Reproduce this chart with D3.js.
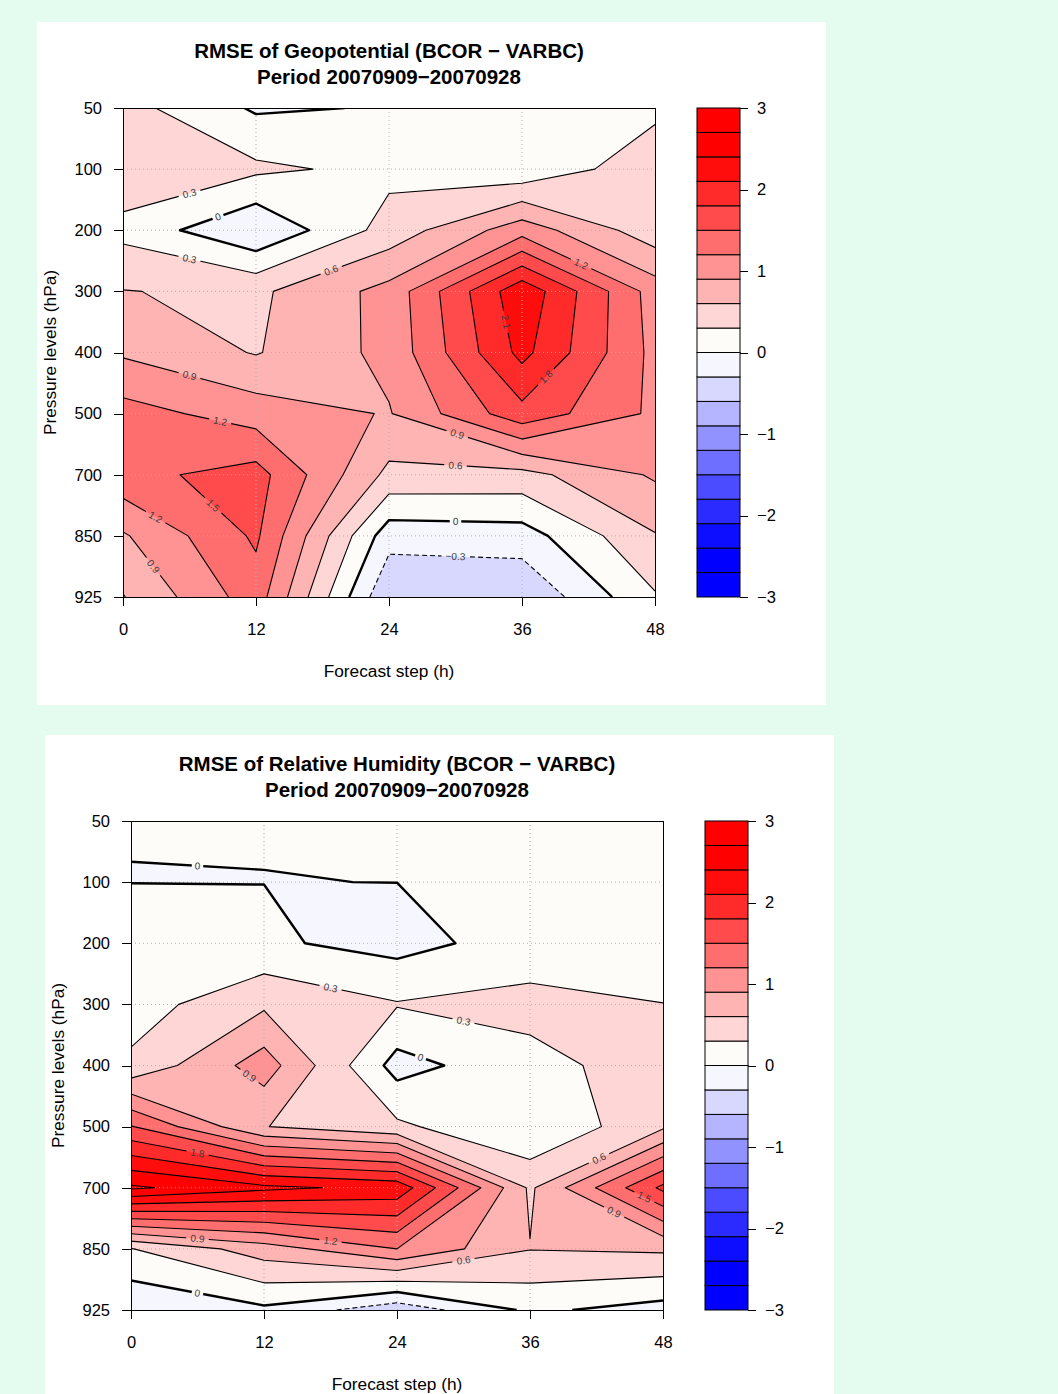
<!DOCTYPE html>
<html>
<head>
<meta charset="utf-8">
<script src="https://cdn.jsdelivr.net/npm/d3@7"></script>
<style>
  html, body { margin: 0; padding: 0; background: #e3fcef; }
  svg { display: block; }
  text { font-family: "Liberation Sans", Arial, Helvetica, sans-serif; }
</style>
</head>
<body>
<svg id="chart" width="1058" height="1394"></svg>
<script>
// Forecast steps (h) along x, pressure levels (hPa) along y
const steps = [0, 12, 24, 36, 48];
const levels = [50, 100, 200, 300, 400, 500, 700, 850, 925];
const keyTicks = [-3, -2, -1, 0, 1, 2, 3];

// One colour per 0.3-wide band, from [-3, -2.7] up to [2.7, 3]
const bandColors = [
  "#0000ff", "#0000ff", "#0d0dff", "#2b2bff", "#4b4bff",
  "#6e6eff", "#9292ff", "#b4b4ff", "#d8d8ff", "#f6f7fe",
  "#fefcf9", "#ffd6d6", "#ffb4b4", "#ff9292", "#ff6e6e",
  "#ff4b4b", "#ff2b2b", "#ff0d0d", "#ff0000", "#ff0000"
];

// RMSE difference, geopotential: one row per pressure level, one column per step
const geopotentialDiff = [
  [0.41, -0.04, 0.02, 0.10, 0.23],
  [0.51, 0.36, 0.22, 0.07, 0.49],
  [0.21, -0.28, 0.42, 1.07, 0.42],
  [0.61, 0.54, 1.00, 2.32, 1.06],
  [0.86, 0.58, 0.985, 2.19, 1.11],
  [1.32, 1.06, 0.88, 1.70, 1.14],
  [1.41, 1.62, 0.52, 0.50, 0.94],
  [0.865, 1.55, -0.18, -0.14, 0.58],
  [0.586, 1.36, -0.58, -0.57, 0.27]
];

// RMSE difference, relative humidity
const humidityDiff = [
  [0.006, 0.008, 0.05, 0.05, 0.05],
  [-0.003, -0.002, 0.001, 0.06, 0.08],
  [0.15, 0.049, -0.11, 0.14, 0.10],
  [0.16, 0.55, 0.32, 0.386, 0.305],
  [0.36, 1.05, -0.118, 0.214, 0.43],
  [1.52, 0.61, 0.36, 0.01, 0.55],
  [2.75, 2.47, 2.31, 0.55, 1.87],
  [0.29, 0.75, 1.20, 0.61, 0.65],
  [-0.27, -0.06, -0.50, 0.056, -0.12]
];

const panels = [
  { title: "RMSE of Geopotential (BCOR \u2212 VARBC)", subtitle: "Period 20070909\u221220070928",
    grid: geopotentialDiff, x: 37, y: 22 },
  { title: "RMSE of Relative Humidity (BCOR \u2212 VARBC)", subtitle: "Period 20070909\u221220070928",
    grid: humidityDiff, x: 45, y: 735 }
];

const W = 1058, H = 1394;
const panelW = 789, panelH = 683;
const plot = { left: 86, top: 86, width: 532, height: 489 };
const keyBox = { left: 660, width: 43 };

const fillLevels = d3.range(bandColors.length).map(k => (-30 + 3 * k) / 10);
const lineLevels = d3.range(-10, 11).map(k => (3 * k) / 10);
const fmt = d3.format(".1f");
const labelText = v => (Math.abs(v) < 1e-9 ? "0" : fmt(v));

const svg = d3.select("#chart");
svg.append("rect").attr("width", W).attr("height", H).attr("fill", "#e3fcef");

// Cut a closed contour ring (pixel coords) into the pieces lying inside the plot
function splitRing(ring, w, h) {
  const eps = 0.5;
  const inside = q => q[0] >= -eps && q[0] <= w + eps && q[1] >= -eps && q[1] <= h + eps;
  const pts = ring.slice(0, -1);
  const n = pts.length;
  const start = pts.findIndex(q => !inside(q));
  if (start < 0) return [pts.concat([pts[0]])];
  const pieces = [];
  let cur = [];
  for (let k = 1; k <= n; k++) {
    const q = pts[(start + k) % n];
    if (inside(q)) cur.push(q);
    else { if (cur.length > 1) pieces.push(cur); cur = []; }
  }
  if (cur.length > 1) pieces.push(cur);
  return pieces;
}

function drawPanel(spec, idx) {
  const g = svg.append("g").attr("transform", `translate(${spec.x},${spec.y})`);
  g.append("rect").attr("width", panelW).attr("height", panelH).attr("fill", "#ffffff");

  const p = g.append("g").attr("transform", `translate(${plot.left},${plot.top})`);
  const x = d3.scaleLinear().domain([steps[0], steps[steps.length - 1]]).range([0, plot.width]);
  const y = d3.scalePoint().domain(levels).range([0, plot.height]);
  const nx = steps.length, ny = levels.length;
  const colPx = d3.scaleLinear().domain([0, nx - 1]).range([x(steps[0]), x(steps[nx - 1])]);
  const rowPx = d3.scaleLinear().domain([0, ny - 1]).range([y(levels[0]), y(levels[ny - 1])]);
  const toPx = q => [colPx(q[0] - 0.5), rowPx(q[1] - 0.5)];
  const proj = d3.geoTransform({
    point(px, py) { const q = toPx([px, py]); this.stream.point(q[0], q[1]); }
  });
  const path = d3.geoPath(proj);
  const values = spec.grid.flat();

  const clipId = `plot-clip-${idx}`;
  p.append("clipPath").attr("id", clipId)
    .append("rect").attr("width", plot.width).attr("height", plot.height);

  // filled bands
  const gen = d3.contours().size([nx, ny]);
  p.append("g").attr("clip-path", `url(#${clipId})`)
    .selectAll("path")
    .data(gen.thresholds(fillLevels)(values))
    .join("path")
    .attr("d", path)
    .attr("fill", (d, i) => bandColors[i]);

  // dotted grid
  const gridG = p.append("g").attr("stroke", "#b0b0b0").attr("stroke-width", 1)
    .attr("stroke-dasharray", "1,3").attr("fill", "none");
  steps.slice(1, -1).forEach(s => {
    gridG.append("line").attr("x1", x(s)).attr("x2", x(s)).attr("y1", 0).attr("y2", plot.height);
  });
  levels.slice(1, -1).forEach(l => {
    gridG.append("line").attr("x1", 0).attr("x2", plot.width).attr("y1", y(l)).attr("y2", y(l));
  });

  // contour lines and their labels
  const lines = [];
  lineLevels.forEach(t => {
    const c = gen.contour(values, t);
    c.coordinates.forEach(poly => poly.forEach(ring => {
      const pxRing = ring.map(toPx);
      splitRing(pxRing, plot.width, plot.height).forEach(piece => lines.push({ value: t, pts: piece }));
    }));
  });

  const labels = [];
  lines.forEach(ln => {
    const txt = labelText(ln.value);
    const lw = txt.length * 5.5 + 2;
    let best = null, bestLen = 0;
    for (let k = 0; k < ln.pts.length - 1; k++) {
      const a = ln.pts[k], b = ln.pts[k + 1];
      const len = Math.hypot(b[0] - a[0], b[1] - a[1]);
      if (len > bestLen) { bestLen = len; best = [a, b]; }
    }
    if (!best || bestLen < lw + 10) return;
    const cx = (best[0][0] + best[1][0]) / 2, cy = (best[0][1] + best[1][1]) / 2;
    if (cx < 6 || cx > plot.width - 6 || cy < 5 || cy > plot.height - 5) return;
    if (labels.some(l => Math.hypot(l.x - cx, l.y - cy) < 30)) return;
    let ang = Math.atan2(best[1][1] - best[0][1], best[1][0] - best[0][0]) * 180 / Math.PI;
    if (ang > 90) ang -= 180;
    if (ang < -90) ang += 180;
    labels.push({ x: cx, y: cy, angle: ang, text: txt, w: lw });
  });

  const maskId = `label-gaps-${idx}`;
  const mask = p.append("mask").attr("id", maskId).attr("maskUnits", "userSpaceOnUse")
    .attr("x", -20).attr("y", -20).attr("width", plot.width + 40).attr("height", plot.height + 40);
  mask.append("rect").attr("x", -20).attr("y", -20)
    .attr("width", plot.width + 40).attr("height", plot.height + 40).attr("fill", "#fff");
  mask.selectAll("rect.gap").data(labels).join("rect").attr("class", "gap")
    .attr("x", d => -d.w / 2 - 2).attr("y", -5.5).attr("width", d => d.w + 4).attr("height", 11)
    .attr("fill", "#000")
    .attr("transform", d => `translate(${d.x},${d.y}) rotate(${d.angle})`);

  const lineGen = d3.line();
  p.append("g").attr("clip-path", `url(#${clipId})`)
    .append("g").attr("mask", `url(#${maskId})`)
    .selectAll("path").data(lines).join("path")
    .attr("d", d => lineGen(d.pts))
    .attr("fill", "none")
    .attr("stroke", "#000")
    .attr("stroke-linejoin", "round")
    .attr("stroke-width", d => (Math.abs(d.value) < 1e-9 ? 2.4 : 1.1))
    .attr("stroke-dasharray", d => (d.value < -1e-9 ? "5,3" : null));

  p.append("g").selectAll("text").data(labels).join("text")
    .attr("transform", d => `translate(${d.x},${d.y}) rotate(${d.angle})`)
    .attr("text-anchor", "middle").attr("dy", "0.35em")
    .attr("font-size", 10).attr("fill", "#3a3a3a")
    .text(d => d.text);

  // frame
  p.append("rect").attr("width", plot.width).attr("height", plot.height)
    .attr("fill", "none").attr("stroke", "#000").attr("stroke-width", 1)
    .attr("shape-rendering", "crispEdges");

  // axes
  const yAxis = p.append("g")
    .call(d3.axisLeft(y).tickSize(9).tickPadding(12).tickSizeOuter(0));
  const xAxis = p.append("g").attr("transform", `translate(0,${plot.height})`)
    .call(d3.axisBottom(x).tickValues(steps).tickSize(9).tickPadding(17).tickSizeOuter(0));
  [yAxis, xAxis].forEach(a => {
    a.attr("font-family", null).attr("font-size", null);
    a.selectAll("text").attr("font-size", 16.5).attr("fill", "#000");
    a.selectAll("line,path").attr("stroke", "#000").attr("shape-rendering", "crispEdges");
  });

  // axis titles
  g.append("text")
    .attr("transform", `translate(19,${plot.top + plot.height / 2}) rotate(-90)`)
    .attr("text-anchor", "middle").attr("font-size", 17.3).attr("fill", "#000")
    .text("Pressure levels (hPa)");
  g.append("text")
    .attr("x", plot.left + plot.width / 2).attr("y", 655)
    .attr("text-anchor", "middle").attr("font-size", 17.3).attr("fill", "#000")
    .text("Forecast step (h)");

  // titles
  g.append("text").attr("x", plot.left + plot.width / 2).attr("y", 36)
    .attr("text-anchor", "middle").attr("font-size", 20.5).attr("font-weight", "bold")
    .attr("fill", "#000").text(spec.title);
  g.append("text").attr("x", plot.left + plot.width / 2).attr("y", 62)
    .attr("text-anchor", "middle").attr("font-size", 20.5).attr("font-weight", "bold")
    .attr("fill", "#000").text(spec.subtitle);

  // colour key
  const k = g.append("g").attr("transform", `translate(${keyBox.left},${plot.top})`);
  const yk = d3.scaleLinear().domain([-3, 3]).range([plot.height, 0]);
  k.selectAll("rect").data(fillLevels).join("rect")
    .attr("x", 0).attr("width", keyBox.width)
    .attr("y", d => yk(d + 0.3)).attr("height", d => yk(d) - yk(d + 0.3))
    .attr("fill", (d, i) => bandColors[i])
    .attr("stroke", "#000").attr("stroke-width", 1);
  const kAxis = k.append("g").attr("transform", `translate(${keyBox.width},0)`)
    .call(d3.axisRight(yk).tickValues(keyTicks).tickFormat(d3.format("d"))
      .tickSize(8).tickPadding(9));
  kAxis.select(".domain").remove();
  kAxis.attr("font-family", null).attr("font-size", null);
  kAxis.selectAll("text").attr("font-size", 16.5).attr("fill", "#000");
  kAxis.selectAll("line").attr("stroke", "#000").attr("shape-rendering", "crispEdges");
}

panels.forEach(drawPanel);
</script>
</body>
</html>
